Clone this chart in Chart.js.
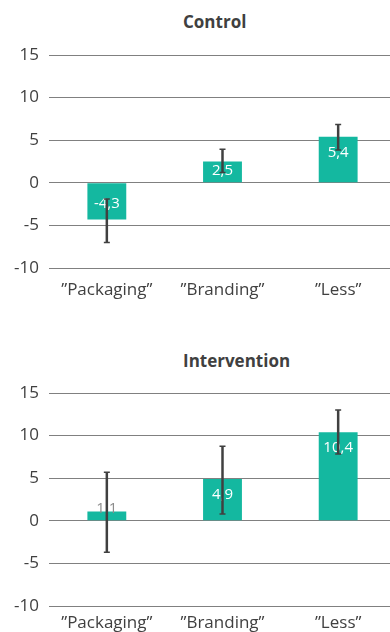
<!DOCTYPE html>
<html><head><meta charset="utf-8">
<script src="https://cdn.jsdelivr.net/npm/chart.js@4.4.1/dist/chart.umd.min.js"></script>
<style>
html,body{margin:0;padding:0;background:#fff;overflow:hidden;width:390px;height:632px;position:relative;}
.wrap{position:absolute;left:0;width:400px;}
.title{position:absolute;left:183px;font:bold 17px "Open Sans";line-height:23px;color:#404040;white-space:nowrap;}
canvas{display:block}
</style></head><body>
<div class="title" style="top:10px">Control</div>
<div class="wrap" style="top:0;height:300px"><canvas id="c1" width="400" height="300"></canvas></div>
<div class="title" style="top:349px">Intervention</div>
<div class="wrap" style="top:330px;height:302px"><canvas id="c2" width="400" height="302"></canvas></div>
<script>
const categories = ['”Packaging”', '”Branding”', '”Less”'];
const controlValues = [-4.3, 2.5, 5.4];
const controlLow = [-7.0, 1.2, 3.85];
const controlHigh = [-1.9, 3.95, 6.85];
const interventionValues = [1.1, 4.9, 10.4];
const interventionLow = [-3.7, 0.8, 7.85];
const interventionHigh = [5.7, 8.75, 13.0];
const yMin = -10, yMax = 15, yStep = 5;

const errLab = {
  id: 'errLab',
  afterDatasetsDraw(chart, args, opts) {
    const ctx = chart.ctx;
    const meta = chart.getDatasetMeta(0);
    const ys = chart.scales.y;
    const data = chart.data.datasets[0].data;
    ctx.save();
    ctx.font = '15px "Open Sans"';
    ctx.textAlign = 'center';
    ctx.textBaseline = 'middle';
    meta.data.forEach((el, i) => {
      const v = data[i];
      const ly = v >= 0 ? Math.min(el.y + 16, el.base - 12) : Math.max(el.y - 16, el.base + 12);
      const outside = v >= 0 ? ly < el.y : ly > el.y;
      ctx.fillStyle = outside ? '#8c8c8c' : '#ffffff';
      ctx.fillText(v.toFixed(1).replace('.', ','), el.x, ly);
    });
    ctx.strokeStyle = '#404040';
    meta.data.forEach((el, i) => {
      const top = ys.getPixelForValue(opts.high[i]);
      const bot = ys.getPixelForValue(opts.low[i]);
      ctx.lineWidth = 2.5;
      ctx.beginPath();
      ctx.moveTo(el.x, top); ctx.lineTo(el.x, bot);
      ctx.stroke();
      ctx.lineWidth = 1.5;
      ctx.beginPath();
      ctx.moveTo(el.x - 3, top); ctx.lineTo(el.x + 3, top);
      ctx.moveTo(el.x - 3, bot); ctx.lineTo(el.x + 3, bot);
      ctx.stroke();
    });
    ctx.restore();
  }
};

function makeChart(id, values, low, high, padTop, xHeight, xPad) {
  return new Chart(document.getElementById(id), {
    type: 'bar',
    data: {
      labels: categories,
      datasets: [{
        data: values,
        backgroundColor: '#14B8A0',
        borderWidth: 0,
        barPercentage: 0.336,
        categoryPercentage: 1
      }]
    },
    options: {
      responsive: false,
      animation: false,
      devicePixelRatio: 1,
      layout: { padding: { top: padTop, right: 4, bottom: 0, left: 0 } },
      plugins: {
        legend: { display: false },
        tooltip: { enabled: false },
        title: { display: false },
        errLab: { low: low, high: high }
      },
      scales: {
        x: {
          afterFit: s => { s.height = xHeight; },
          grid: { display: false, drawTicks: false },
          border: { display: false },
          ticks: { color: '#404040', font: { family: 'Open Sans', size: 17 }, padding: xPad, maxRotation: 0 }
        },
        y: {
          min: yMin, max: yMax,
          afterFit: s => { s.width = 49; },
          grid: { color: '#808080', lineWidth: 1, drawTicks: false },
          border: { display: false },
          ticks: { stepSize: yStep, color: '#404040', font: { family: 'Open Sans', size: 17 }, padding: 10 }
        }
      }
    },
    plugins: [errLab]
  });
}
makeChart('c1', controlValues, controlLow, controlHigh, 55, 32, 12);
makeChart('c2', interventionValues, interventionLow, interventionHigh, 63, 26, 7);
</script>
</body></html>
